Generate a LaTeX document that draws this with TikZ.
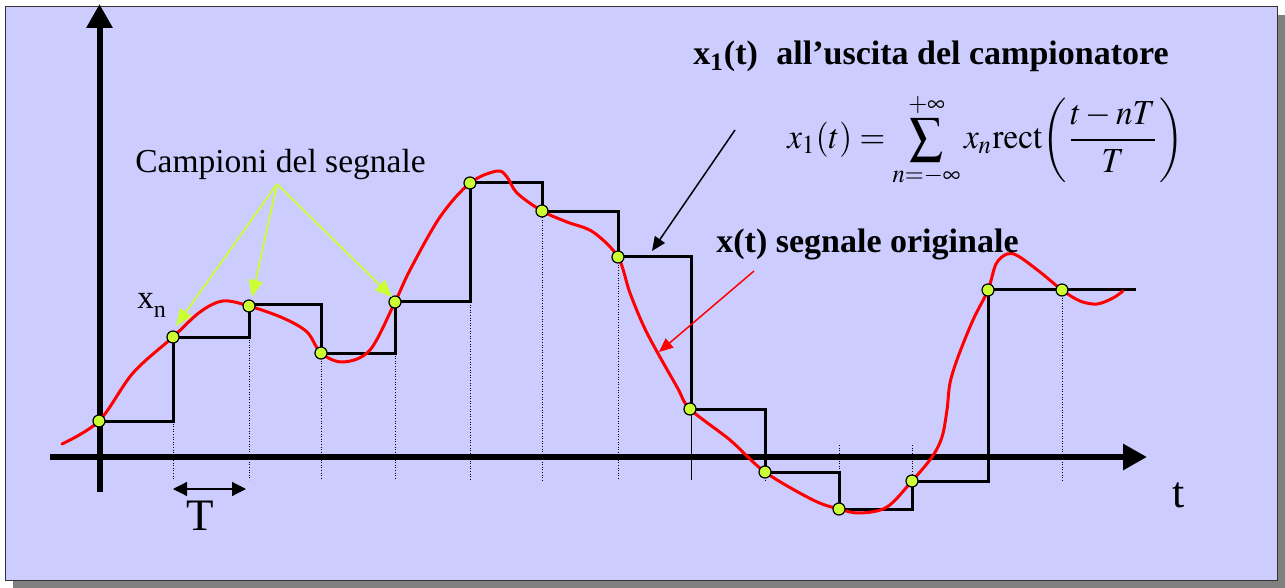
\documentclass[tikz,border=0pt]{standalone}
\usepackage{mathptmx}
\usepackage[no-math]{fontspec}
\setmainfont{Liberation Serif}
\usepackage{graphicx}
\usetikzlibrary{arrows.meta}
\definecolor{bg}{HTML}{CCCCFF}
\definecolor{lime}{HTML}{CCFF33}
\definecolor{shadowgray}{HTML}{808080}
\begin{document}
\begin{tikzpicture}[x=0.5pt,y=-0.5pt,
  axis/.style={line width=3pt,-{Triangle[length=12pt,width=12.5pt]}},
  stepline/.style={line width=1.5pt,line join=miter},
  signal/.style={red,line width=1.5pt,line cap=round},
  samp/.style={circle,fill=lime,draw=black,line width=0.6pt,minimum size=6pt,inner sep=0pt},
  guide/.style={dash pattern=on 0.5pt off 0.8pt,line width=0.5pt},
  greenarrow/.style={lime,line width=0.9pt,-{Triangle[length=8.5pt,width=7pt]}},
  thinarrow/.style={line width=0.75pt,-{Triangle[length=7pt,width=6pt]}},
  txt/.style={inner sep=0pt,anchor=base west},
]
\useasboundingbox (0,0) rectangle (1285,588);
% frame with shadow
\fill[shadowgray] (13,15) rectangle (1285,588);
\draw[fill=bg,draw=black!80,line width=0.5pt] (5,7) rectangle (1277,580);

% guide lines
\draw[guide] (173,421) -- (173,480);
\draw[guide] (249,337) -- (249,480);
\draw[guide] (321,353) -- (321,480);
\draw[guide] (395,353) -- (395,480);
\draw[guide] (470,302) -- (470,480);
\draw[guide] (542,212) -- (542,480);
\draw[guide] (618,257) -- (618,480);
\draw[line width=0.5pt] (691,409) -- (691,480);
\draw[guide] (765,472) -- (765,481);
\draw[guide] (839,445) -- (839,472);
\draw[guide] (912,445) -- (912,481);
\draw[guide] (1062,290) -- (1062,481);

% axes
\coordinate (ybot) at (99.5,492);
\coordinate (ytop) at (99.5,4);
\coordinate (xleft) at (50,457);
\coordinate (xright) at (1147,457);
\draw[axis] (ybot) -- (ytop);
\draw[axis] (xleft) -- (xright);

% sampled (held) signal
\draw[stepline] (99,421) -- (173,421) -- (173,337) -- (249,337) -- (249,305) -- (321,305)
  -- (321,353) -- (395,353) -- (395,302) -- (470,302) -- (470,183) -- (542,183)
  -- (542,212) -- (618,212) -- (618,257) -- (691,257) -- (691,409) -- (765,409)
  -- (765,472) -- (839,472) -- (839,509) -- (912,509) -- (912,481) -- (988,481)
  -- (988,290) -- (1136,290);

% original signal
\draw[signal] plot[smooth,tension=0.55] coordinates {
 (62,444) (99,421) (133,373) (173,337) (200,312) (223,301) (249,306) (283,318)
 (307,332) (321,353) (343,362) (370,350) (395,302) (410,270) (440,217) (470,183)
 (497,171) (507,177) (517,193) (542,211) (567,222) (593,232) (618,257) (630,293)
 (647,333) (677,387) (690,409) (730,440) (765,472) (813,500) (839,509) (860,513)
 (887,507) (912,481) (932,457) (942,437) (947,410) (950,383) (958,357) (973,320)
 (988,290) (996,264) (1007,254) (1018,256) (1040,272) (1062,290) (1080,301)
 (1097,304) (1113,298) (1123,291)};

% samples
\foreach \n/\x/\y in {0/99/421,1/173/337,2/249/306,3/321/353,4/395/302,5/470/183,
  6/542/211,7/618/257,8/690/409,9/765/472,10/839/509,11/912/481,12/988/290,13/1062/290}
  \node[samp] (s\n) at (\x,\y) {};

% T marker
\coordinate (Ta) at (173,489);
\coordinate (Tb) at (246,489);
\draw[line width=0.6pt,{Triangle[length=7pt,width=7pt]}-{Triangle[length=7pt,width=7pt]}] (Ta) -- (Tb);
\node[inner sep=0pt,anchor=base] (Tlab) at (200,530) {\fontsize{22.5pt}{24pt}\selectfont T};
\node[txt] (tlab) at (1172,507) {\fontsize{22pt}{24pt}\selectfont t};

% labels
\node[txt] (camp) at (135,173) {\fontsize{16.75pt}{20pt}\selectfont Campioni del segnale};
\node[txt] (xn) at (137,308) {\fontsize{16.5pt}{20pt}\selectfont x\raisebox{-4.5pt}{\fontsize{12pt}{12pt}\selectfont n}};
\node[txt] (title) at (693,65) {\fontsize{17pt}{20pt}\selectfont\bfseries x\textsubscript{1}(t)\hspace{5pt} all’uscita del campionatore};
\node[txt] (orig) at (716,253) {\fontsize{17pt}{20pt}\selectfont\bfseries x(t) segnale originale};
\node[inner sep=0pt,anchor=north west] (formula) at (787,92)
  {\resizebox*{198pt}{48pt}{$\displaystyle x_1(t)=\sum_{n=-\infty}^{+\infty} x_n\mathrm{rect}\!\left(\frac{t-nT}{T}\right)$}};

% green arrows from the label
\coordinate (g0) at (277,184);
\coordinate (g1) at (176,326);
\coordinate (g2) at (252,297);
\coordinate (g3) at (392,297);
\draw[greenarrow] (g0) -- (g1);
\draw[greenarrow] (g0) -- (g2);
\draw[greenarrow] (g0) -- (g3);

% annotation arrows
\coordinate (b0) at (735,130);
\coordinate (b1) at (652,251);
\draw[thinarrow] (b0) -- (b1);
\coordinate (r0) at (754,271);
\coordinate (r1) at (659,352);
\draw[thinarrow,red] (r0) -- (r1);
\end{tikzpicture}
\end{document}
